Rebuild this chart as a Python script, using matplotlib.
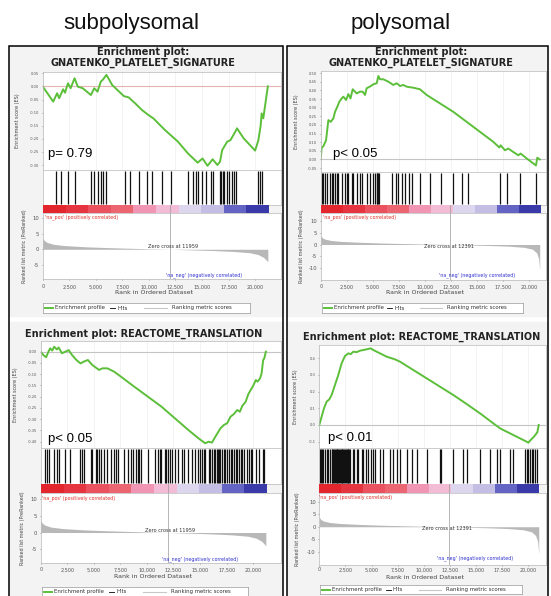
import matplotlib
matplotlib.use("Agg")
import matplotlib.pyplot as plt
from matplotlib.colors import ListedColormap
from matplotlib.patches import Rectangle
import numpy as np

W, H = 551, 596

# ---------------- data ----------------
columns = ["subpolysomal", "polysomal"]
rank_ticks = [0, 2500, 5000, 7500, 10000, 12500, 15000, 17500, 20000]

# ranked list metric, one per fraction (shared by both gene sets)
sub_n = 21200
sub_zero_cross = 11959
sub_metric_rank = [0, 150, 400, 1000, 2000, 4000, 6000, 8000, 10000, 11959,
                   14000, 16000, 18000, 19500, 20300, 20800, 21100, 21200]
sub_metric = [3.6, 2.8, 2.2, 1.6, 1.2, 0.8, 0.55, 0.35, 0.15, 0.0,
              -0.2, -0.4, -0.7, -1.1, -1.7, -2.6, -3.6, -4.0]

poly_n = 21000
poly_zero_cross = 12391
poly_metric_rank = [0, 150, 400, 1000, 2000, 4000, 6000, 8000, 10000, 12391,
                    14000, 16000, 18000, 19500, 20300, 20700, 20900, 21000]
poly_metric = [3.8, 2.9, 2.3, 1.7, 1.3, 0.9, 0.6, 0.4, 0.2, 0.0,
               -0.2, -0.4, -0.7, -1.2, -2.0, -3.5, -6.0, -11.0]

# GNATENKO_PLATELET_SIGNATURE, subpolysomal
gn_sub_rank = [0, 990, 1360, 1550, 1920, 2100, 2380, 2630, 3000, 3310,
               3770, 4540, 4850, 5160, 5470, 5690, 6000, 6550, 7640, 8100,
               8720, 9340, 9950, 10420, 11500, 12740, 13660, 14590, 15050, 15520,
               16000, 16450, 16700, 16900, 17370, 17680, 18050, 18300, 18920, 20000,
               20310, 20520, 20620, 20770, 21200]
gn_sub_es = [0.0, -0.058, -0.026, -0.045, -0.011, -0.024, 0.012, -0.007, 0.031, -0.001,
             -0.007, -0.033, -0.007, -0.02, 0.018, 0.027, 0.044, 0.005, -0.037, -0.042,
             -0.065, -0.09, -0.109, -0.122, -0.166, -0.211, -0.255, -0.291, -0.275, -0.303,
             -0.278, -0.30, -0.287, -0.243, -0.211, -0.205, -0.179, -0.16, -0.198, -0.245,
             -0.205, -0.151, -0.103, -0.122, 0.0]
gn_sub_hits = [1206, 1762, 2380, 2998, 4544, 4853, 5162, 5471, 5688, 5935,
               7790, 8253, 9026, 9861, 10325, 11190, 12117, 13663, 14127, 14436,
               14590, 14961, 15363, 15827, 16074, 16692, 16816, 16940, 17063, 17311,
               17527, 17836, 18053, 18238, 20309, 20464, 20680]
gn_sub_p = "p= 0.79"

# GNATENKO_PLATELET_SIGNATURE, polysomal
gn_poly_rank = [0, 96, 250, 511, 735, 960, 1214, 1374, 1597, 1789,
                2013, 2173, 2428, 2652, 2860, 3067, 3450, 3770, 4026, 4249,
                4409, 4730, 5048, 5370, 5527, 5687, 6000, 6486, 6965, 7284,
                7604, 7920, 8243, 8882, 9521, 10160, 11438, 12716, 13994, 15272,
                16550, 17125, 17252, 17668, 17987, 18466, 18946, 19170, 19744, 20639,
                20767, 21000]
gn_poly_es = [0.0, 0.069, 0.076, 0.111, 0.228, 0.218, 0.238, 0.276, 0.306, 0.335,
              0.354, 0.364, 0.345, 0.379, 0.354, 0.407, 0.383, 0.393, 0.393, 0.374,
              0.413, 0.423, 0.436, 0.442, 0.484, 0.465, 0.465, 0.451, 0.432, 0.442,
              0.426, 0.432, 0.422, 0.416, 0.407, 0.374, 0.325, 0.276, 0.218, 0.160,
              0.102, 0.069, 0.082, 0.053, 0.063, 0.043, 0.024, 0.034, 0.006, -0.035,
              0.010, 0.0]
gn_poly_hits = [96, 192, 415, 575, 895, 1054, 1214, 1374, 1534, 1693,
                2013, 2332, 2492, 2652, 2971, 3131, 3514, 3770, 3994, 4473,
                4728, 5048, 5208, 5367, 5431, 5527, 5623, 6805, 7220, 7444,
                7764, 8083, 8498, 8722, 9521, 10479, 11534, 12716, 13514, 14153,
                17188, 17827, 19105, 20639]
gn_poly_p = "p< 0.05"

# REACTOME_TRANSLATION, subpolysomal
tr_sub_rank = [0, 254, 508, 730, 889, 1080, 1270, 1520, 1683, 2000,
               2317, 2635, 2952, 3365, 3746, 4063, 4444, 4857, 5492, 5810,
               6286, 6921, 7556, 8825, 10095, 11365, 12635, 13905, 14857, 15492,
               15810, 16127, 16444, 16921, 17238, 17556, 17873, 18190, 18508, 18750,
               18984, 19302, 19556, 19778, 20000, 20254, 20413, 20650, 20800, 20950,
               21050, 21200]
tr_sub_es = [0.0, -0.015, -0.025, 0.0, 0.015, 0.005, 0.022, 0.010, 0.019, -0.007,
             0.0, 0.007, -0.015, -0.037, -0.052, -0.044, -0.037, -0.059, -0.081, -0.074,
             -0.074, -0.089, -0.111, -0.156, -0.200, -0.244, -0.296, -0.348, -0.385, -0.407,
             -0.400, -0.404, -0.378, -0.341, -0.326, -0.318, -0.289, -0.277, -0.259, -0.267,
             -0.241, -0.222, -0.188, -0.170, -0.152, -0.126, -0.133, -0.119, -0.096, -0.037,
             -0.030, 0.0]
tr_sub_hits = [413, 571, 825, 1206, 1524, 1683, 2317, 2794, 3746, 3905,
               4063, 4698, 4857, 5175, 5333, 5492, 5651, 5968, 6286, 6603,
               6921, 7079, 7238, 7873, 8190, 8508, 8667, 8984, 9143, 9302,
               9460, 10095, 10730, 11048, 11206, 11365, 11683, 11841, 12000, 12159,
               12317, 12635, 12952, 13270, 13524, 13905, 14222, 14540, 14857, 15016,
               15175, 15333, 15492, 15810, 15968, 16127, 16286, 16444, 16603, 16698,
               16825, 16921, 17079, 17238, 17397, 17556, 17714, 17873, 18032, 18190,
               18349, 18508, 18667, 18825, 18984, 19143, 19460, 19619, 19778, 19937,
               20254, 20571, 20889, 21048]
tr_sub_p = "p< 0.05"

# REACTOME_TRANSLATION, polysomal
tr_poly_rank = [0, 223, 447, 702, 957, 1180, 1499, 1818, 2137, 2456,
                2775, 2998, 3254, 3573, 3892, 4211, 4530, 4912, 5167, 5805,
                6443, 7241, 7719, 8995, 10271, 11547, 12823, 14099, 15375, 16651,
                17289, 18246, 19203, 19841, 20000, 20223, 20542, 20861, 21000]
tr_poly_es = [0.0, 0.05, 0.10, 0.14, 0.154, 0.18, 0.24, 0.30, 0.37, 0.414,
              0.43, 0.425, 0.44, 0.437, 0.446, 0.45, 0.454, 0.46, 0.45, 0.43,
              0.41, 0.394, 0.38, 0.33, 0.28, 0.23, 0.18, 0.126, 0.07, 0.01,
              -0.02, -0.05, -0.08, -0.10, -0.106, -0.09, -0.07, -0.044, 0.0]
tr_poly_hits = [64, 159, 287, 383, 542, 702, 861, 1021,
                1180, 1260, 1340, 1420, 1500, 1580, 1660, 1740, 1820, 1900,
                1980, 2060, 2140, 2220, 2300, 2380, 2460, 2540, 2620, 2700,
                2780, 2860, 2935, 3190, 3317, 3573, 3732, 4051, 4211, 4466,
                4689, 4912, 5167, 5327, 5805, 6124, 6762, 7081, 7400, 7719,
                8357, 8836, 9314, 10271, 11547, 11643, 12823, 13780, 14099, 15375,
                16332, 16970, 17289, 18246, 18565, 19681, 19841, 20000, 20159, 20319,
                20478, 20638, 20797]
tr_poly_p = "p< 0.01"

# ---------------- layout (pixels) ----------------
TL = dict(title=["Enrichment plot:", "GNATENKO_PLATELET_SIGNATURE"], cx=143, title_y=[52, 62.5],
          x0=42.7, ppk=10.62, right=281, es=(72, 170), es_lim=(-0.319, 0.055),
          hits=(170, 205), bar=(205, 213), rk=(213, 279), rk_lim=(-9.5, 11.6),
          es_lab_x=17, rk_lab_x=25, tick_y=286, xlab_y=293, leg=(43, 303, 250, 313),
          p=(48.3, 156.7), na_pos=(45, 217), zero_txt=(173, 246), na_neg=(204, 275),
          bg=(9, 47, 283, 316), zero_col="#e6b2b2")
TR = dict(title=["Enrichment plot:", "GNATENKO_PLATELET_SIGNATURE"], cx=421, title_y=[52, 62.5],
          x0=320.7, ppk=10.43, right=546, es=(71, 172), es_lim=(-0.073, 0.513),
          hits=(172, 205), bar=(205, 213), rk=(213, 280), rk_lim=(-15.1, 13.4),
          es_lab_x=296.5, rk_lab_x=302, tick_y=286, xlab_y=292.7, leg=(321.7, 303, 522.7, 313),
          p=(333.3, 156.7), na_pos=(323, 217), zero_txt=(449, 246), na_neg=(477, 275),
          bg=(287, 47, 548, 316), zero_col="#c4c4c4")
BL = dict(title=["Enrichment plot: REACTOME_TRANSLATION"], cx=144, title_y=[334],
          x0=40.7, ppk=10.62, right=281, es=(341, 448), es_lim=(-0.428, 0.0475),
          hits=(448, 484), bar=(484, 493), rk=(493, 563), rk_lim=(-9.1, 11.8),
          es_lab_x=15, rk_lab_x=23, tick_y=569, xlab_y=577, leg=(41.7, 586.7, 248.3, 597),
          p=(48.3, 441.7), na_pos=(42, 498), zero_txt=(170, 530), na_neg=(200.5, 559),
          bg=(9, 322, 283, 597), zero_col="#c4c4c4")
BR = dict(title=["Enrichment plot: REACTOME_TRANSLATION"], cx=421.7, title_y=[337],
          x0=319.3, ppk=10.45, right=546, es=(345, 448), es_lim=(-0.138, 0.48),
          hits=(448, 484), bar=(484, 493), rk=(493, 565), rk_lim=(-15.3, 13.5),
          es_lab_x=295, rk_lab_x=297, tick_y=569, xlab_y=577.3, leg=(320, 585, 521.7, 594),
          p=(328.3, 440.7), na_pos=(319, 497), zero_txt=(447.5, 529), na_neg=(475, 558),
          bg=(287, 322, 548, 597), zero_col="#c4c4c4")

GREEN = "#5cbf3a"
bar_cmap = ListedColormap(["#e3262e", "#e53540", "#e9525e", "#ec6672", "#f096b4",
                           "#f2bcd6", "#dcd6ee", "#c4bee4", "#6464c4", "#3a3aa8"])
GSEA_FONT = "DejaVu Sans"
HEAD_FONT = "Liberation Sans"

fig = plt.figure(figsize=(W / 100, H / 100), dpi=100)


def fx(x):
    return x / W


def fy(y):
    return 1 - y / H


def rect(l, t, r, b):
    return [l / W, 1 - b / H, (r - l) / W, (b - t) / H]


def style_spines(ax, color="#b8b8b8"):
    for s in ax.spines.values():
        s.set_color(color)
        s.set_linewidth(0.5)


def draw_panel(L, es_rank, es, hits, m_rank, m, n, zero, es_ticks, es_fmt, m_ticks, pval):
    x0, ppk, right = L["x0"], L["ppk"], L["right"]
    xmax = (right - x0) / ppk * 1000

    l, t, r, b = L["bg"]
    fig.patches.append(Rectangle((fx(l), fy(b)), (r - l) / W, (b - t) / H,
                                 transform=fig.transFigure, color="#f3f3f3", zorder=-5))

    for s, y in zip(L["title"], L["title_y"]):
        fig.text(fx(L["cx"]), fy(y), s, ha="center", va="center", fontsize=7,
                 fontweight="bold", color="#222222", family=GSEA_FONT)

    # enrichment score
    t, b = L["es"]
    ax = fig.add_axes(rect(x0, t, right, b))
    ax.set_xlim(0, xmax)
    ax.set_ylim(*L["es_lim"])
    ax.set_xticks(rank_ticks)
    ax.set_xticklabels([])
    ax.grid(axis="x", color="#eeeeee", lw=0.5)
    ax.axhline(0, color=L["zero_col"], lw=0.8)
    ax.plot(es_rank, es, color=GREEN, lw=1.4)
    ax.set_yticks(es_ticks)
    ax.set_yticklabels([es_fmt.format(v) for v in es_ticks], fontsize=2.6, family=GSEA_FONT)
    ax.tick_params(length=1, width=0.4, pad=1.5, colors="#555555")
    ax.tick_params(axis="x", length=0)
    style_spines(ax)
    fig.text(fx(L["es_lab_x"]), fy((t + b) / 2), "Enrichment score (ES)", rotation=90,
             ha="center", va="center", fontsize=3.5, color="#444444", family=GSEA_FONT)
    fig.text(fx(L["p"][0]), fy(L["p"][1]), pval, ha="left", va="baseline",
             fontsize=9.5, color="black", family=HEAD_FONT)

    # hits
    t, b = L["hits"]
    ax = fig.add_axes(rect(x0, t, right, b))
    ax.set_xlim(0, xmax)
    ax.set_ylim(0, 1)
    ax.vlines(hits, 0.03, 0.97, color="#111111", lw=0.9)
    ax.set_xticks([])
    ax.set_yticks([])
    style_spines(ax)

    # colour bar
    t, b = L["bar"]
    ax = fig.add_axes(rect(x0, t, right, b))
    ax.imshow(np.arange(10).reshape(1, -1), cmap=bar_cmap, aspect="auto",
              extent=(0, n, 0, 1), interpolation="nearest")
    ax.set_xlim(0, xmax)
    ax.set_ylim(0, 1)
    ax.axvline(zero, color="#999999", lw=0.5)
    ax.axis("off")

    # ranked list metric
    t, b = L["rk"]
    ax = fig.add_axes(rect(x0, t, right, b))
    ax.set_xlim(0, xmax)
    ax.set_ylim(*L["rk_lim"])
    ax.fill_between(m_rank, m, 0, color="#b8b8b8", lw=0)
    ax.axvline(zero, color="#999999", lw=0.5)
    ax.set_xticks(rank_ticks)
    ax.set_xticklabels([f"{v:,}" for v in rank_ticks], fontsize=3.5, family=GSEA_FONT)
    ax.set_yticks(m_ticks)
    ax.set_yticklabels([str(v) for v in m_ticks], fontsize=3.8, family=GSEA_FONT)
    ax.tick_params(length=1, width=0.4, pad=1.5, colors="#555555")
    ax.tick_params(axis="x", pad=(L["tick_y"] - 2 - b - 1) * 0.72)
    style_spines(ax)
    fig.text(fx(L["rk_lab_x"]), fy((t + b) / 2), "Ranked list metric (PreRanked)", rotation=90,
             ha="center", va="center", fontsize=3.4, color="#444444", family=GSEA_FONT)
    fig.text(fx((x0 + right) / 2 - 8), fy(L["xlab_y"]), "Rank in Ordered Dataset",
             ha="center", va="center", fontsize=4.5, color="#444444", family=GSEA_FONT)
    fig.text(fx(L["na_pos"][0]), fy(L["na_pos"][1]), "'na_pos' (positively correlated)",
             ha="left", va="center", fontsize=3.4, color="#e0302a", family=GSEA_FONT)
    fig.text(fx(L["zero_txt"][0]), fy(L["zero_txt"][1]), f"Zero cross at {zero}",
             ha="center", va="center", fontsize=3.6, color="#333333", family=GSEA_FONT)
    fig.text(fx(L["na_neg"][0]), fy(L["na_neg"][1]), "'na_neg' (negatively correlated)",
             ha="center", va="center", fontsize=3.4, color="#3030d0", family=GSEA_FONT)

    # legend box
    l, t, r, b = L["leg"]
    lg = fig.add_axes(rect(l, t, r, b))
    lg.set_xlim(0, 1)
    lg.set_ylim(0, 1)
    lg.set_xticks([])
    lg.set_yticks([])
    lg.set_facecolor("white")
    style_spines(lg, "#999999")
    items = [(0.01, 0.05, 0.06, GREEN, 1.4, "Enrichment profile"),
             (0.325, 0.35, 0.36, "black", 0.6, "Hits"),
             (0.49, 0.60, 0.625, "#c8c8c8", 0.8, "Ranking metric scores")]
    for a, e, tx, c, w, s in items:
        lg.plot([a, e], [0.5, 0.5], color=c, lw=w)
        lg.text(tx, 0.5, s, fontsize=3.9, va="center", color="#333333", family=GSEA_FONT)


es_ticks_tl = [0.05, 0.00, -0.05, -0.10, -0.15, -0.20, -0.25, -0.30]
es_ticks_tr = [0.50, 0.45, 0.40, 0.35, 0.30, 0.25, 0.20, 0.15, 0.10, 0.05, 0.00, -0.05]
es_ticks_bl = [0.00, -0.05, -0.10, -0.15, -0.20, -0.25, -0.30, -0.35, -0.40]
es_ticks_br = [0.4, 0.3, 0.2, 0.1, 0.0, -0.1]
m_ticks_sub = [10, 5, 0, -5]
m_ticks_poly = [10, 5, 0, -5, -10]

draw_panel(TL, gn_sub_rank, gn_sub_es, gn_sub_hits, sub_metric_rank, sub_metric, sub_n,
           sub_zero_cross, es_ticks_tl, "{:.2f}", m_ticks_sub, gn_sub_p)
draw_panel(TR, gn_poly_rank, gn_poly_es, gn_poly_hits, poly_metric_rank, poly_metric, poly_n,
           poly_zero_cross, es_ticks_tr, "{:.2f}", m_ticks_poly, gn_poly_p)
draw_panel(BL, tr_sub_rank, tr_sub_es, tr_sub_hits, sub_metric_rank, sub_metric, sub_n,
           sub_zero_cross, es_ticks_bl, "{:.2f}", m_ticks_sub, tr_sub_p)
draw_panel(BR, tr_poly_rank, tr_poly_es, tr_poly_hits, poly_metric_rank, poly_metric, poly_n,
           poly_zero_cross, es_ticks_br, "{:.1f}", m_ticks_poly, tr_poly_p)

# column headers
fig.text(fx(131.5), fy(29), columns[0], ha="center", va="baseline", fontsize=16,
         family=HEAD_FONT, color="#111111")
fig.text(fx(401), fy(29), columns[1], ha="center", va="baseline", fontsize=16,
         family=HEAD_FONT, color="#111111")

# column frames
for l, r in [(9, 283), (287, 548)]:
    fig.patches.append(Rectangle((fx(l), fy(600)), (r - l) / W, (600 - 46) / H,
                                 transform=fig.transFigure, fill=False,
                                 edgecolor="black", lw=1.1, zorder=5))

fig.savefig("out.png", dpi=100)
